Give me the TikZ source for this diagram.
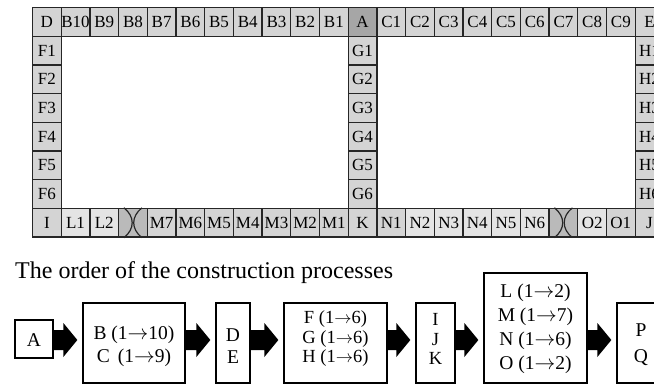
\documentclass[tikz,border=0pt]{standalone}
\usepackage{fontspec}
\setmainfont{Liberation Serif}
\usetikzlibrary{calc}

\definecolor{cellgray}{HTML}{D4D4D4}
\definecolor{celllight}{HTML}{E4E4E4}
\definecolor{celldark}{HTML}{A6A6A6}
\definecolor{jointgray}{HTML}{BABABA}
\definecolor{inkline}{HTML}{262626}

% one square segment of the ring, placed by column and row
\newcommand\gridcell[5]{%
  \node[cellbox, fill=#4] (#5) at ({46.85+28.7*#1},{21.85+28.7*#2}) {#3};}

% thick block arrow between two process boxes
\newcommand\flowarrow[2]{%
  \fill[black] (#1.east |- 0,330) -- ($(#2.west |- 0,330)+(-19,0)$)
    -- ($(#2.west |- 0,323)+(-19,0)$) -- ($(#2.west |- 0,340)+(-5,0)$)
    -- ($(#2.west |- 0,357)+(-19,0)$) -- ($(#2.west |- 0,350)+(-19,0)$)
    -- (#1.east |- 0,350) -- cycle;}

\begin{document}
\begin{tikzpicture}[x=1pt,y=-1pt,
  cellbox/.style={draw=inkline, line width=1.3pt, minimum width=28.7pt,
    minimum height=28.7pt, inner sep=0pt, font=\fontsize{17}{18}\selectfont},
  flowbox/.style={draw=black, line width=1.3pt, fill=white, inner sep=0pt},
  flowtext/.style={align=center, inner sep=0pt},
  joint/.style={draw=inkline, line width=1.2pt}
]
\useasboundingbox (0,0) rectangle (654,385);
\clip (0,0) rectangle (654,385);

% top row
\foreach \t/\s [count=\i from 0] in {D/cellgray,B10/cellgray,B9/cellgray,
    B8/cellgray,B7/cellgray,B6/cellgray,B5/cellgray,B4/cellgray,B3/cellgray,
    B2/cellgray,B1/cellgray,A/celldark,C1/cellgray,C2/cellgray,C3/cellgray,
    C4/cellgray,C5/cellgray,C6/cellgray,C7/cellgray,C8/cellgray,C9/cellgray,
    E/cellgray}
  {\gridcell{\i}{0}{\t}{\s}{c-\t}}

% vertical columns
\foreach \r in {1,...,6} {
  \gridcell{0}{\r}{F\r}{cellgray}{c-F\r}
  \gridcell{11}{\r}{G\r}{cellgray}{c-G\r}
  \gridcell{21}{\r}{H\r}{cellgray}{c-H\r}
}

% bottom row
\foreach \t/\s [count=\i from 0] in {I/cellgray,L1/celllight,L2/celllight,
    X1/jointgray,M7/cellgray,M6/cellgray,M5/cellgray,M4/cellgray,M3/cellgray,
    M2/cellgray,M1/cellgray,K/cellgray,N1/cellgray,N2/celllight,N3/celllight,
    N4/celllight,N5/celllight,N6/celllight,X2/jointgray,O2/celllight,
    O1/cellgray,J/cellgray}
  {\ifnum\i=3 \gridcell{\i}{7}{}{\s}{c-\t}%
   \else\ifnum\i=18 \gridcell{\i}{7}{}{\s}{c-\t}%
   \else \gridcell{\i}{7}{\t}{\s}{c-\t}\fi\fi}

% closing joints
\foreach \j in {c-X1,c-X2} {
  \draw[joint] ($(\j.north)+(-9,0)$) .. controls ($(\j.north)+(2,9)$)
    and ($(\j.south)+(2,-9)$) .. ($(\j.south)+(-9,0)$);
  \draw[joint] ($(\j.north)+(9,0)$) .. controls ($(\j.north)+(-2,9)$)
    and ($(\j.south)+(-2,-9)$) .. ($(\j.south)+(9,0)$);
}

% construction order
\node[anchor=base west, inner sep=0pt, font=\fontsize{24}{26}\selectfont]
  (title) at (15,278) {The order of the construction processes};

\node[flowbox, minimum width=38pt, minimum height=38pt] (pa) at (34,339) {};
\node[flowbox, minimum width=102pt, minimum height=80pt] (pb) at (134,343) {};
\node[flowbox, minimum width=34pt, minimum height=80pt] (pd) at (233,343) {};
\node[flowbox, minimum width=103pt, minimum height=80pt] (pf) at (335.5,343) {};
\node[flowbox, minimum width=39pt, minimum height=80pt] (pi) at (435.5,343) {};
\node[flowbox, minimum width=103pt, minimum height=110pt] (pl) at (535.5,328) {};
\node[flowbox, minimum width=48pt, minimum height=80pt] (pp) at (641,343) {};

\node[flowtext, font=\fontsize{19.5}{23}\selectfont] (ta) at (34,340) {A};
\node[flowtext, font=\fontsize{19.5}{23}\selectfont] (tb) at (134,346.5)
  {B (1$\rightarrow$10)\\C\,\ (1$\rightarrow$9)};
\node[flowtext, font=\fontsize{19.5}{22}\selectfont] (td) at (233,346) {D\\E};
\node[flowtext, font=\fontsize{18.5}{19.5}\selectfont] (tf) at (335.5,339)
  {F (1$\rightarrow$6)\\G (1$\rightarrow$6)\\H (1$\rightarrow$6)};
\node[flowtext, font=\fontsize{18.5}{19.5}\selectfont] (ti) at (435.5,339) {I\\J\\K};
\node[flowtext, font=\fontsize{19.5}{24}\selectfont] (tl) at (535.5,328.5)
  {L (1$\rightarrow$2)\\M (1$\rightarrow$7)\\N (1$\rightarrow$6)\\O (1$\rightarrow$2)};
\node[flowtext, font=\fontsize{19.5}{26}\selectfont] (tp) at (641,345) {P\\Q};

\flowarrow{pa}{pb}
\flowarrow{pb}{pd}
\flowarrow{pd}{pf}
\flowarrow{pf}{pi}
\flowarrow{pi}{pl}
\flowarrow{pl}{pp}
\end{tikzpicture}
\end{document}
